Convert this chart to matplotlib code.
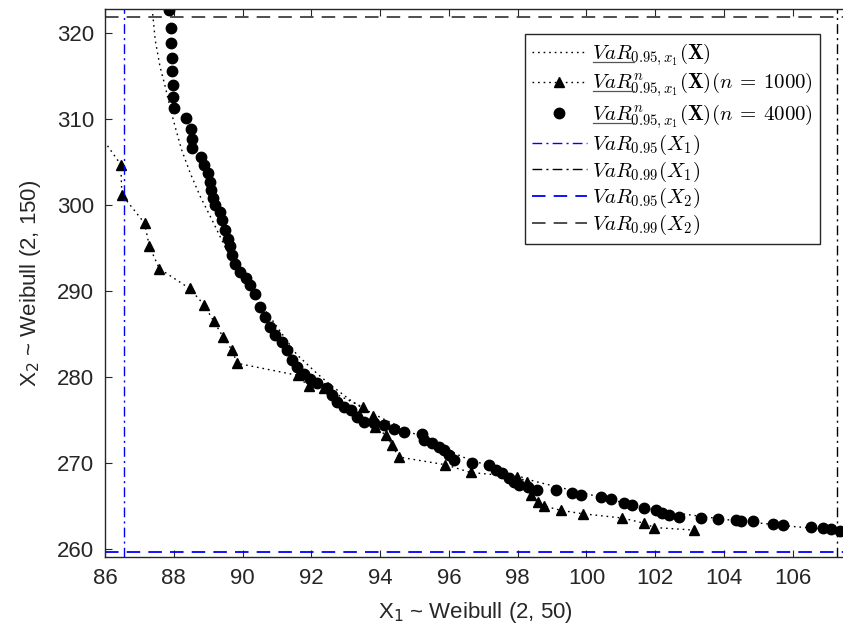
import matplotlib
matplotlib.use('Agg')
import matplotlib.pyplot as plt
from matplotlib.lines import Line2D
from matplotlib.transforms import IdentityTransform

plt.rcParams['font.family'] = ['Liberation Sans', 'DejaVu Sans']
plt.rcParams['mathtext.fontset'] = 'cm'

# theoretical VaR curve
curve_x = [87.35, 87.39, 87.46, 87.60, 87.75, 87.89, 88.04, 88.23, 88.48, 88.77,
           89.11, 89.40, 89.74, 90.03, 91.58, 92.17, 92.55, 93.14, 93.52, 94.11,
           96.40, 98.38, 98.77, 100.13, 101.78, 102.94, 104.11, 106.05, 107.31, 107.60]
curve_y = [323.5, 322.1, 319.2, 316.1, 313.8, 311.4, 309.1, 306.4, 303.7, 301.0,
           298.3, 295.9, 293.2, 291.3, 282.6, 280.4, 279.1, 277.3, 276.3, 275.1,
           270.7, 268.0, 267.6, 266.3, 264.7, 264.0, 263.4, 262.6, 262.2, 262.1]

# empirical estimate, n = 1000
n1000_x = [85.70, 86.46, 86.49, 87.15, 87.29, 87.58, 88.46, 88.88, 89.16, 89.43,
           89.70, 89.84, 91.60, 91.92, 92.36, 93.50, 93.80, 93.86, 94.18, 94.35,
           94.54, 95.90, 96.63, 97.99, 98.28, 98.38, 98.58, 98.77, 99.25, 99.89,
           101.05, 101.68, 101.97, 103.14]
n1000_y = [309.0, 304.7, 301.2, 297.9, 295.2, 292.6, 290.3, 288.4, 286.5, 284.7,
           283.1, 281.6, 280.2, 278.9, 278.7, 276.5, 275.5, 274.2, 273.2, 272.1,
           270.7, 269.8, 268.9, 268.4, 267.8, 266.3, 265.5, 265.0, 264.5, 264.1,
           263.6, 263.0, 262.5, 262.2]

# empirical estimate, n = 4000
n4000_x = [87.87, 87.91, 87.93, 87.94, 87.95, 87.97, 87.99, 88.01, 88.36, 88.51,
           88.53, 88.53, 88.80, 88.89, 89.01, 89.06, 89.09, 89.15, 89.20, 89.35,
           89.40, 89.50, 89.57, 89.64, 89.69, 89.79, 89.93, 90.11, 90.22, 90.37,
           90.52, 90.66, 90.81, 90.95, 91.15, 91.29, 91.44, 91.58, 91.78, 91.97,
           92.17, 92.46, 92.60, 92.75, 92.94, 93.14, 93.33, 93.52, 93.82, 94.11,
           94.40, 94.69, 95.22, 95.27, 95.52, 95.71, 95.85, 96.00, 96.15, 96.68,
           97.17, 97.36, 97.56, 97.75, 97.89, 98.04, 98.30, 98.55, 99.11, 99.59,
           99.84, 100.42, 100.71, 101.10, 101.34, 101.68, 102.02, 102.21, 102.41, 102.70,
           103.33, 103.84, 104.35, 104.50, 104.84, 105.42, 105.71, 106.54, 106.88, 107.12,
           107.39]
n4000_y = [322.7, 320.6, 318.8, 317.1, 315.6, 314.0, 312.6, 311.3, 310.1, 308.9,
           307.7, 306.6, 305.6, 304.7, 303.7, 302.7, 301.7, 300.8, 300.0, 299.2,
           298.3, 297.1, 296.1, 295.2, 294.2, 293.2, 292.2, 291.5, 290.7, 289.7,
           288.2, 287.0, 285.8, 284.9, 284.1, 283.1, 282.0, 281.2, 280.4, 279.8,
           279.3, 278.7, 277.9, 277.1, 276.5, 276.2, 275.4, 274.8, 274.6, 274.4,
           274.0, 273.6, 273.4, 272.7, 272.3, 271.9, 271.5, 270.9, 270.3, 270.0,
           269.8, 269.2, 268.8, 268.2, 267.8, 267.4, 267.2, 266.9, 266.9, 266.5,
           266.3, 266.1, 265.8, 265.3, 265.1, 264.8, 264.5, 264.2, 263.9, 263.7,
           263.6, 263.5, 263.4, 263.3, 263.2, 262.9, 262.8, 262.6, 262.4, 262.3,
           262.1]

# marginal VaR levels
var95_x1 = 86.54
var99_x1 = 107.30
var95_x2 = 259.62
var99_x2 = 321.90

labels = [r'$VaR_{0.95,x_1}(\mathbf{X})$',
          r'$VaR^{n}_{0.95,x_1}(\mathbf{X})(n\:=\:1000)$',
          r'$VaR^{n}_{0.95,x_1}(\mathbf{X})(n\:=\:4000)$',
          r'$VaR_{0.95}(X_1)$',
          r'$VaR_{0.99}(X_1)$',
          r'$VaR_{0.95}(X_2)$',
          r'$VaR_{0.99}(X_2)$']

fig = plt.figure(figsize=(8.43, 6.43), dpi=100)
ax = fig.add_axes([105 / 843, 86 / 643, 741 / 843, 548 / 643])

dot = (1.2, 2.8)
dashdot = (7, 3, 1.5, 3)
dash = (7.5, 4.5)
ax.plot(curve_x, curve_y, color='k', lw=1, dashes=dot, label=labels[0])
ax.plot(n1000_x, n1000_y, color='k', lw=1, dashes=dot, marker='^', ms=7.5,
        label=labels[1])
ax.plot(n4000_x, n4000_y, 'ko', ms=7.5, ls='none', label=labels[2])
ax.axvline(var95_x1, color='b', lw=1, dashes=dashdot, label=labels[3])
ax.axvline(var99_x1, color='k', lw=1, dashes=dashdot, label=labels[4])
ax.axhline(var95_x2, color='b', lw=1.3, dashes=dash, label=labels[5])
ax.axhline(var99_x2, color='#404040', lw=1.3, dashes=dash, label=labels[6])

ax.set_xlim(86, 107.55)
ax.set_ylim(259.07, 322.8)
ax.set_xticks(range(86, 107, 2))
ax.set_yticks(range(260, 321, 10))
ax.tick_params(direction='in', length=5, width=0.8, colors='#262626',
               labelsize=16, top=True, right=False, pad=8)
for s in ax.spines.values():
    s.set_color('#262626')
    s.set_linewidth(1)

mt = dict(math_fontfamily='dejavusans', fontsize=16, color='#262626')
ax.set_xlabel(r'X$_1$ ~ Weibull (2, 50)', labelpad=8, **mt)
ax.set_ylabel(r'X$_2$ ~ Weibull (2, 150)', labelpad=10, **mt)

leg = ax.legend(loc='upper right', bbox_to_anchor=(820 / 843, 1 - 34 / 643),
                bbox_transform=fig.transFigure, borderaxespad=0, fontsize=15,
                fancybox=False, framealpha=1, edgecolor='#262626',
                handlelength=2.6, handletextpad=0.25, labelspacing=0.12,
                borderpad=0.35)
leg.get_frame().set_linewidth(1)

# underline "VaR" in the first three legend entries
fig.canvas.draw()
r = fig.canvas.get_renderer()
for t in leg.get_texts()[:3]:
    bb = t.get_window_extent(r)
    _, _, d_full = r.get_text_width_height_descent(t.get_text(), t.get_fontproperties(), ismath=True)
    w, _, _ = r.get_text_width_height_descent(r'$VaR$', t.get_fontproperties(), ismath=True)
    base = bb.y0 + d_full - 2.5
    fig.add_artist(Line2D([bb.x0 + 1, bb.x0 + w + 1], [base, base], color='#555555',
                          lw=0.9, transform=IdentityTransform()))

fig.savefig('out.png', dpi=100)
